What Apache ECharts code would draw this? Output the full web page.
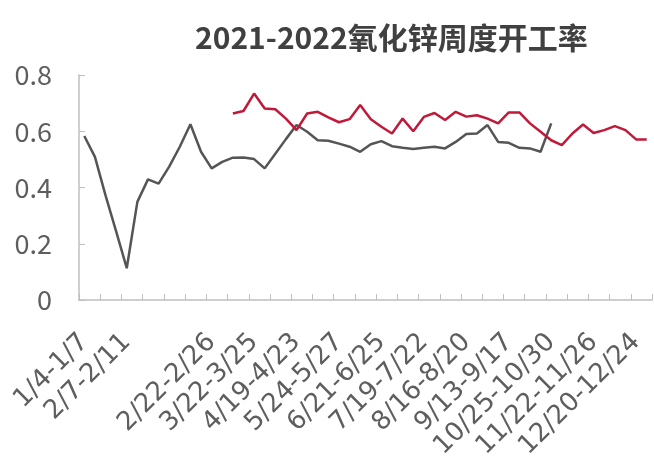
<!DOCTYPE html>
<html>
<head>
<meta charset="utf-8">
<script src="https://cdn.jsdelivr.net/npm/echarts@6/dist/echarts.min.js"></script>
<style>
  html, body { margin: 0; padding: 0; background: #ffffff; }
  #chart { width: 654px; height: 476px; }
</style>
</head>
<body>
<div id="chart"></div>
<script>
// Weekly zinc-oxide operating rate, 2021 vs 2022 (54 weekly slots)
const weekCount = 54;
const weekSlots = Array.from({ length: weekCount }, (_, i) => 'W' + (i + 1));

// Labels shown on every 4th week slot
const tickLabels = [
  '1/4-1/7', '2/7-2/11', '', '2/22-2/26', '3/22-3/25', '4/19-4/23',
  '5/24-5/27', '6/21-6/25', '7/19-7/22', '8/16-8/20', '9/13-9/17',
  '10/25-10/30', '11/22-11/26', '12/20-12/24'
];

const rate2021 = [
  0.583, 0.509, 0.372, 0.244, 0.113, 0.349, 0.429, 0.414, 0.474, 0.545,
  0.625, 0.527, 0.468, 0.491, 0.506, 0.507, 0.501, 0.468, 0.520, 0.572,
  0.622, 0.598, 0.568, 0.566, 0.556, 0.545, 0.527, 0.554, 0.565, 0.547,
  0.541, 0.537, 0.541, 0.545, 0.539, 0.562, 0.590, 0.592, 0.622, 0.562,
  0.559, 0.541, 0.539, 0.527, 0.628, null, null, null, null, null,
  null, null, null, null
];

const rate2022 = [
  null, null, null, null, null, null, null, null, null, null,
  null, null, null, null, 0.663, 0.672, 0.734, 0.681, 0.678, 0.645,
  0.604, 0.663, 0.669, 0.649, 0.632, 0.643, 0.693, 0.643, 0.616, 0.592,
  0.645, 0.600, 0.651, 0.665, 0.640, 0.669, 0.652, 0.657, 0.645, 0.628,
  0.667, 0.667, 0.628, 0.598, 0.568, 0.551, 0.592, 0.624, 0.594, 0.604,
  0.618, 0.604, 0.571, 0.571
];

const axisGrey = '#bfbfbf';
const textGrey = '#5e5e5e';
const labelFont = '"Noto Sans CJK SC", "Noto Sans", sans-serif';
const dateFont = '"DejaVu Sans", sans-serif';

const chart = echarts.init(document.getElementById('chart'), null, { renderer: 'canvas' });

chart.setOption({
  animation: false,
  backgroundColor: '#ffffff',
  title: {
    text: '2021-2022氧化锌周度开工率',
    left: 190,
    top: 18,
    textStyle: {
      fontFamily: '"Noto Sans CJK SC", sans-serif',
      fontSize: 30,
      fontWeight: 'bold',
      color: '#404040'
    }
  },
  grid: { left: 79, right: 2, top: 75, bottom: 176, containLabel: false },
  xAxis: {
    type: 'category',
    data: weekSlots,
    boundaryGap: true,
    axisLine: { lineStyle: { color: axisGrey, width: 1.5 } },
    axisTick: { show: true, inside: true, length: 6, interval: 1, lineStyle: { color: axisGrey } },
    axisLabel: {
      interval: 3,
      rotate: 45,
      margin: 38,
      fontSize: 26,
      fontFamily: dateFont,
      color: textGrey,
      formatter: (value, index) => tickLabels[index / 4] || ''
    },
    splitLine: { show: false }
  },
  yAxis: {
    type: 'value',
    min: 0,
    max: 0.8,
    interval: 0.2,
    axisLine: { show: true, lineStyle: { color: axisGrey, width: 1.5 } },
    axisTick: { show: true, inside: true, length: 6, lineStyle: { color: axisGrey } },
    axisLabel: {
      margin: 27,
      fontSize: 27,
      fontFamily: labelFont,
      color: textGrey,
      formatter: v => (v === 0 ? '0' : v.toFixed(1))
    },
    splitLine: { show: false }
  },
  series: [
    {
      name: '2021',
      type: 'line',
      data: rate2021,
      symbol: 'none',
      connectNulls: false,
      lineStyle: { color: '#555555', width: 2.5 },
      itemStyle: { color: '#555555' }
    },
    {
      name: '2022',
      type: 'line',
      data: rate2022,
      symbol: 'none',
      connectNulls: false,
      lineStyle: { color: '#c0193a', width: 2.5 },
      itemStyle: { color: '#c0193a' }
    }
  ]
});
</script>
</body>
</html>
